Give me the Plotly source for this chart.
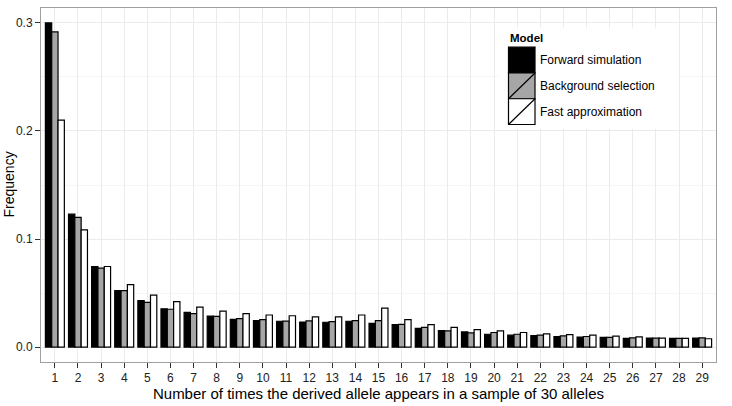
import plotly.graph_objects as go

categories = list(range(1, 30))
series_names = ["Forward simulation", "Background selection", "Fast approximation"]
forward = [0.300, 0.123, 0.0746, 0.0523, 0.0431, 0.0355, 0.0321, 0.0287, 0.0257, 0.0245,
           0.0239, 0.0232, 0.0230, 0.0239, 0.0220, 0.0208, 0.0174, 0.0153, 0.0140, 0.0119,
           0.0110, 0.0107, 0.0098, 0.0092, 0.0089, 0.0080, 0.0083, 0.0080, 0.0083]
background = [0.2917, 0.120, 0.0731, 0.0523, 0.0413, 0.0350, 0.0310, 0.0284, 0.0263, 0.0254,
              0.0240, 0.0242, 0.0236, 0.0245, 0.0245, 0.0210, 0.0183, 0.0150, 0.0131, 0.0135,
              0.0119, 0.0110, 0.0104, 0.0098, 0.0089, 0.0086, 0.0083, 0.0080, 0.0086]
fast = [0.210, 0.1085, 0.0746, 0.0578, 0.0480, 0.0420, 0.0370, 0.0333, 0.0310, 0.0297,
        0.0290, 0.0280, 0.0280, 0.0297, 0.0360, 0.0254, 0.0208, 0.0183, 0.0162, 0.0150,
        0.0135, 0.0122, 0.0116, 0.0110, 0.0101, 0.0095, 0.0083, 0.0080, 0.0077]
fills = ["#000000", "#a6a6a6", "#ffffff"]
y_ticks = [0.0, 0.1, 0.2, 0.3]
y_tick_labels = ["0.0", "0.1", "0.2", "0.3"]

W, H = 732, 406
L, R, T, B = 41, 716, 7, 364

fig = go.Figure()
for name, vals, col in zip(series_names, [forward, background, fast], fills):
    fig.add_trace(go.Bar(x=categories, y=vals, name=name, marker=dict(color=col, line=dict(color="#000000", width=1.2)),
                         showlegend=False))

def px(x):
    return (x - L) / (R - L)

def py(y):
    return (B - y) / (B - T)

shapes = []
annotations = []
# legend background
shapes.append(dict(type="rect", xref="paper", yref="paper", x0=px(498), x1=px(678), y0=py(129), y1=py(27),
                   fillcolor="white", line=dict(width=0), layer="above"))
key_top = 46.5
key_h = 26
for i, (name, col) in enumerate(zip(series_names, fills)):
    y0 = key_top + i * key_h
    y1 = y0 + key_h
    shapes.append(dict(type="rect", xref="paper", yref="paper", x0=px(508.5), x1=px(535), y0=py(y1), y1=py(y0),
                       fillcolor=col, line=dict(color="black", width=1.2), layer="above"))
    shapes.append(dict(type="line", xref="paper", yref="paper", x0=px(508.5), x1=px(535), y0=py(y1), y1=py(y0),
                       line=dict(color="black", width=1.2), layer="above"))
    annotations.append(dict(text=name, xref="paper", yref="paper", x=px(537.5), y=py((y0 + y1) / 2),
                            xanchor="left", yanchor="middle", showarrow=False,
                            font=dict(family="Liberation Sans, Arial", size=12, color="#000")))
annotations.append(dict(text="<b>Model</b>", xref="paper", yref="paper", x=px(508), y=py(37),
                        xanchor="left", yanchor="middle", showarrow=False,
                        font=dict(family="Liberation Sans, Arial", size=11.5, color="#000")))
annotations.append(dict(text="Frequency", xref="paper", yref="paper", x=0, xshift=8.5 - L, y=0.5,
                        xanchor="center", yanchor="middle", textangle=-90, showarrow=False,
                        font=dict(family="Liberation Sans, Arial", size=14, color="#000")))

fig.update_layout(
    width=W, height=H,
    margin=dict(l=L, r=W - R, t=T, b=H - B, pad=0),
    plot_bgcolor="white", paper_bgcolor="white",
    barmode="group", bargap=0.18, bargroupgap=0,
    font=dict(family="Liberation Sans, Arial", color="#000"),
    shapes=shapes, annotations=annotations,
    xaxis=dict(range=[0.4, 29.6], tickmode="array", tickvals=categories, ticktext=[str(c) for c in categories],
               showgrid=True, gridcolor="#ebebeb", gridwidth=1, zeroline=False,
               showline=True, linecolor="#a0a0a0", linewidth=1, mirror=True,
               ticks="outside", ticklen=5, tickcolor="#333", tickwidth=1,
               tickfont=dict(size=12, color="#222"),
               title=dict(text="Number of times the derived allele appears in a sample of 30 alleles",
                          font=dict(size=15, color="#000"), standoff=3)),
    yaxis=dict(range=[-0.0138, 0.3138], tickmode="array", tickvals=y_ticks, ticktext=y_tick_labels,
               showgrid=True, gridcolor="#ebebeb", gridwidth=1, zeroline=False,
               showline=True, linecolor="#a0a0a0", linewidth=1, mirror=True,
               ticks="outside", ticklen=5, tickcolor="#333", tickwidth=1,
               tickfont=dict(size=12, color="#222"),
               minor=dict(tickmode="array", tickvals=[0.05, 0.15, 0.25], showgrid=True, gridcolor="#f5f5f5", ticks="")),
)

fig.write_html("out.html")
